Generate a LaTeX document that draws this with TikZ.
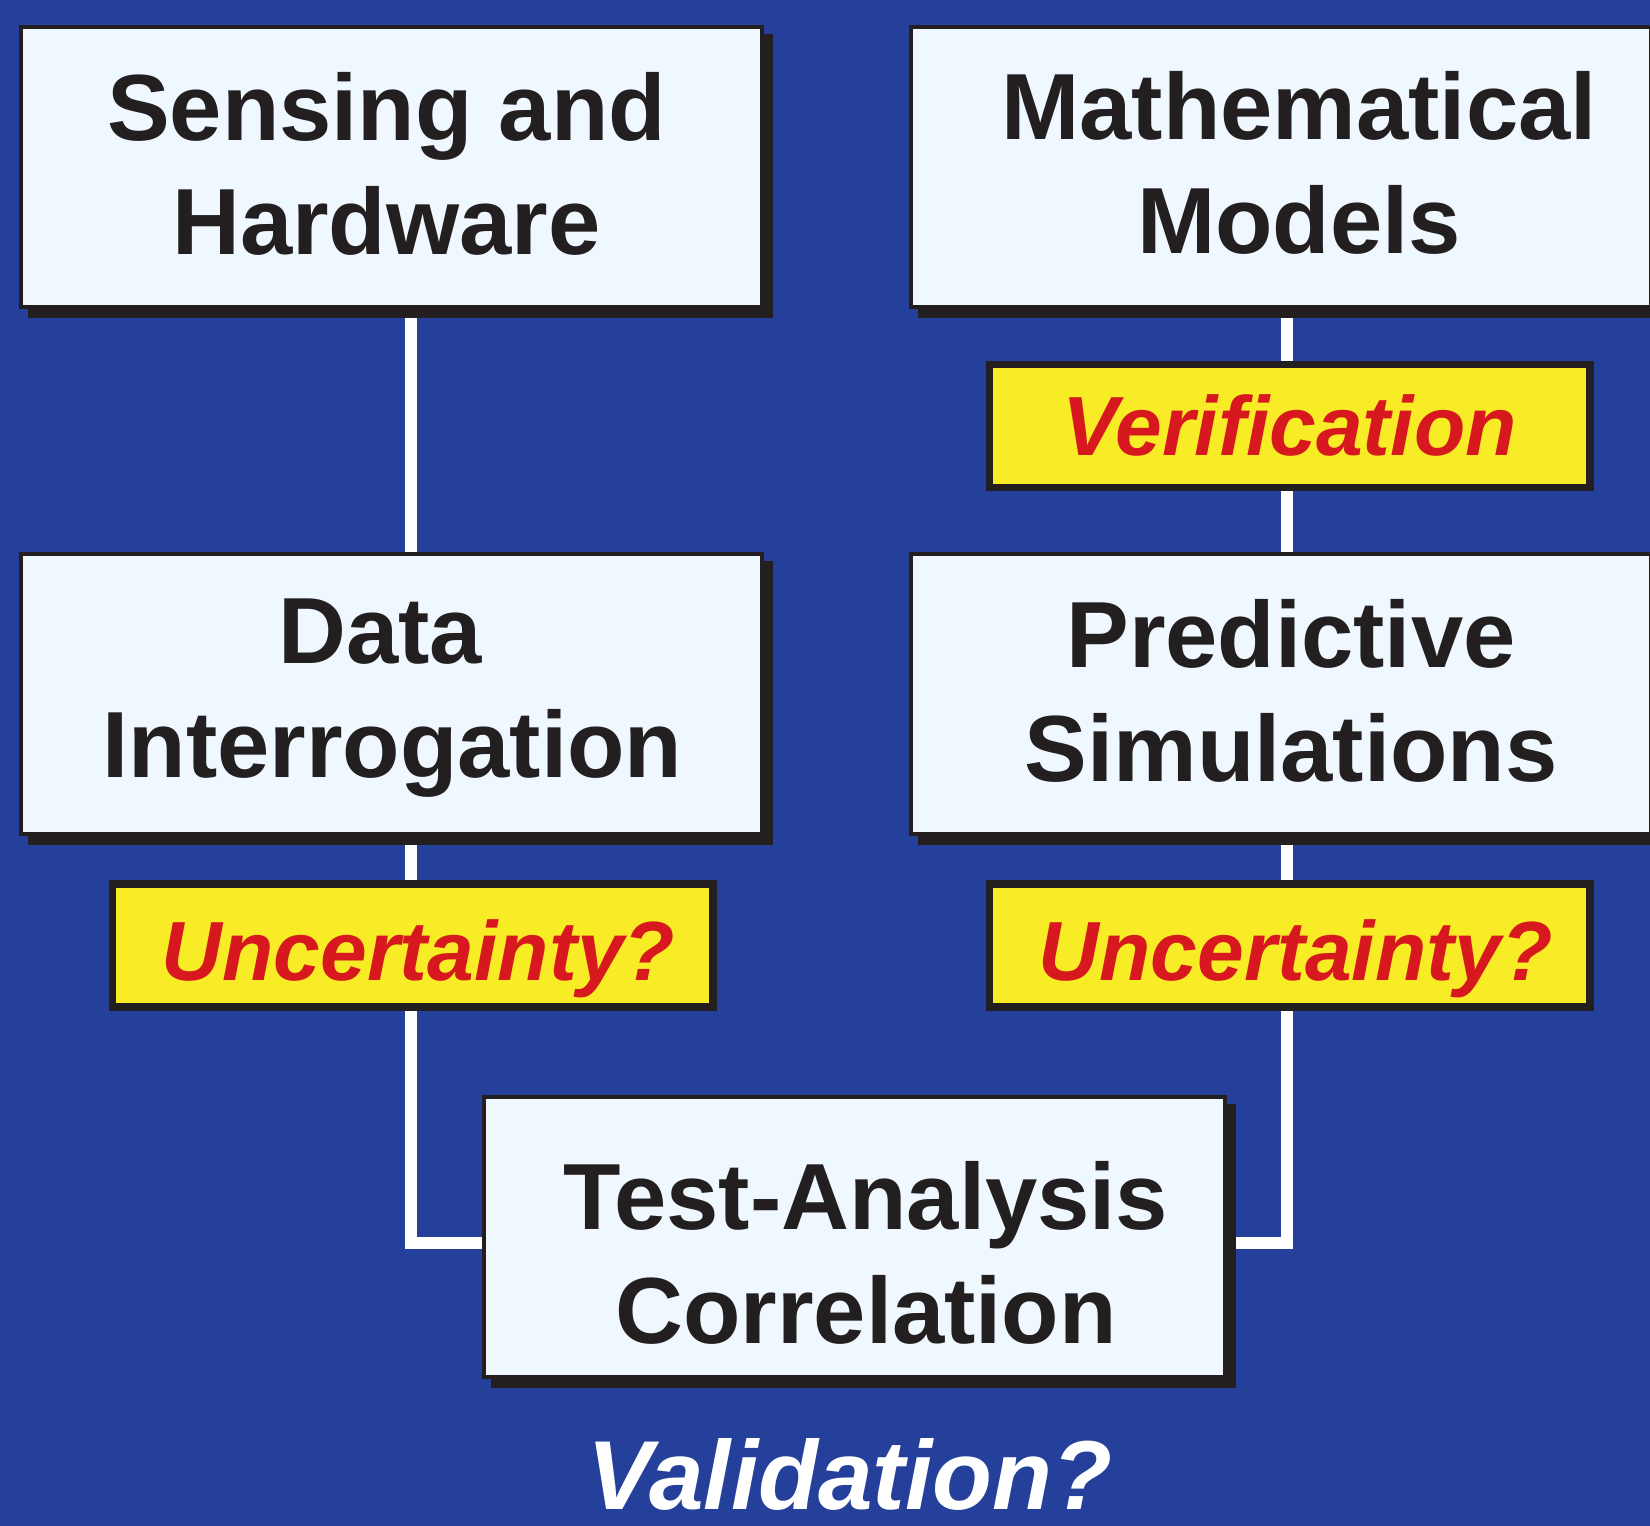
\documentclass[tikz,border=0pt]{standalone}
\usepackage{fontspec}
\setmainfont{Liberation Sans}
\usetikzlibrary{shadows}
\definecolor{bgblue}{RGB}{36,64,154}
\definecolor{boxfill}{RGB}{239,248,254}
\definecolor{ink}{RGB}{35,31,32}
\definecolor{yel}{RGB}{248,236,38}
\definecolor{redtxt}{RGB}{215,25,31}
\pgfdeclarelayer{back}
\pgfdeclarelayer{wires}
\pgfsetlayers{back,wires,main}
\newcommand\twol[2]{\vtop{\halign{\hfil##\hfil\cr#1\cr#2\cr}}}
\tikzset{
  bigbox/.style={draw=ink, fill=boxfill, line width=4pt, minimum width=740.6pt,
    minimum height=280pt, inner sep=0pt,
    drop shadow={shadow xshift=9pt, shadow yshift=-9pt, fill=ink, draw=ink,
      line width=4pt, opacity=1}},
  bigtext/.style={anchor=base, inner sep=0pt, text=ink,
    font=\fontsize{94}{114}\selectfont\bfseries},
  qbox/.style={draw=ink, fill=yel, line width=7.5pt, minimum width=600.5pt,
    minimum height=123pt, inner sep=0pt, text=redtxt,
    font=\fontsize{84}{100}\selectfont\bfseries\itshape,
    text depth=0pt, text height=#1},
  qbox/.default=58pt,
  valtext/.style={anchor=base, inner sep=0pt, text=white, text depth=0pt,
    font=\fontsize{98}{118}\selectfont\bfseries\itshape},
  wire/.style={draw=white, line width=12pt}
}
\begin{document}
\begin{tikzpicture}[x=1pt,y=-1pt]
\useasboundingbox (0,0) rectangle (1650,1526);
\begin{pgfonlayer}{back}
  \fill[bgblue] (0,0) rectangle (1650,1526);
\end{pgfonlayer}

% main boxes
\node[bigbox] (sh) at (391.7,167) {};
\node[bigtext] (sht) at (386.5,140) {\twol{Sensing and}{Hardware}};
\node[bigbox] (mm) at (1280.8,167) {};
\node[bigtext] (mmt) at (1299,139) {\twol{Mathematical}{Models}};
\node[bigbox] (di) at (391.7,693.9) {};
\node[bigtext] (dit) at (392.4,663) {\twol{Data\kern24pt}{Interrogation}};
\node[bigbox] (ps) at (1280.8,693.9) {};
\node[bigtext] (pst) at (1291,667) {\twol{Predictive}{Simulations}};
\node[bigbox, minimum width=741.4pt] (tac) at (854.3,1237.3) {};
\node[bigtext] (tact) at (866,1229) {\twol{Test-Analysis}{Correlation}};

% yellow labels
\node[qbox=58pt] (ver) at (1289.7,426) {Verification};
\node[qbox=69pt] (unl) at (412.9,945.5) {\kern11pt Uncertainty?};
\node[qbox=69pt] (unr) at (1289.7,945.5) {\kern12pt Uncertainty?};

\node[valtext] (val) at (850,1509) {Validation?};

% connectors
\coordinate (lx) at (411,0);
\coordinate (rx) at (1287,0);
\coordinate (cl) at (411,1243);
\coordinate (cr) at (1287,1243);
\begin{pgfonlayer}{wires}
  \draw[wire] (sh.south -| lx) -- (di.north -| lx);
  \draw[wire] (di.south -| lx) -- (unl.north -| lx);
  \draw[wire] (unl.south -| cl) -- (cl) -- (tac.west |- cl);
  \draw[wire] (mm.south -| rx) -- (ver.north -| rx);
  \draw[wire] (ver.south -| rx) -- (ps.north -| rx);
  \draw[wire] (ps.south -| rx) -- (unr.north -| rx);
  \draw[wire] (unr.south -| cr) -- (cr) -- (tac.east |- cr);
\end{pgfonlayer}
\end{tikzpicture}
\end{document}
